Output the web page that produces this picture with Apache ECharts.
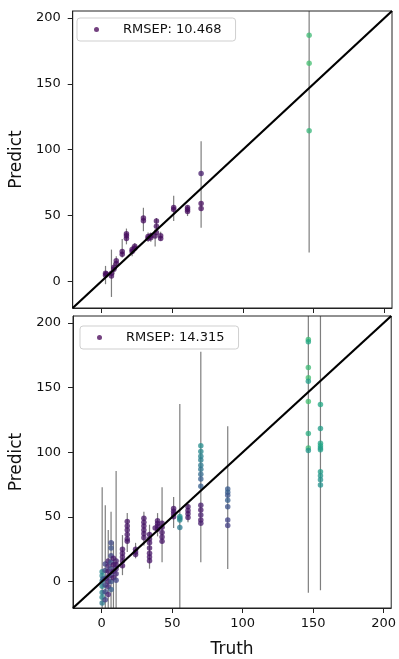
<!DOCTYPE html>
<html>
<head>
<meta charset="utf-8">
<script src="https://cdn.jsdelivr.net/npm/echarts@6/dist/echarts.min.js"></script>
<style>
html,body{margin:0;padding:0;background:#fff;}
#chart{width:399px;height:659px;}
</style>
</head>
<body>
<div id="chart"></div>
<script>
// ---------- data ----------
const axisMin = -20.4;
const axisMax = 205.4;
const tickValues = [0, 50, 100, 150, 200];
const xTitle = 'Truth';
const yTitle = 'Predict';
const topLabel = 'RMSEP: 10.468';
const botLabel = 'RMSEP: 14.315';

// top panel points (truth, predict, colour level 0..1)
const topTruth = [2.8, 2.8, 3.5, 7, 7, 8.7, 8.7, 10.4, 10.4, 14.6, 14.6, 17.6, 17.6, 17.6, 21.6, 21.6, 23.5, 23.5,
  29.6, 29.6, 32.9, 32.9, 34.8, 34.8, 37.9, 38.8, 38.8, 38.8, 41.8, 41.8, 51, 51, 60.8, 60.8, 60.8,
  70.4, 70.4, 70.4, 146.8, 146.8, 146.8];
const topPred = [4.5, 6.0, 5.5, 4.0, 6.0, 9.0, 10.5, 13.5, 15.5, 20.5, 22.5, 32.5, 34.5, 36.0, 22.5, 24.0, 25.0, 26.5,
  46.0, 48.0, 32.5, 34.0, 33.0, 34.5, 34.3, 37.0, 41.7, 45.7, 32.5, 34.5, 54.5, 56.0, 53.0, 54.5, 56.0,
  81.8, 59.0, 55.3, 187.0, 165.7, 114.4];
const topShade = [0.03, 0.03, 0.03, 0.03, 0.03, 0.03, 0.03, 0.03, 0.03, 0.03, 0.03, 0.03, 0.03, 0.03, 0.03, 0.03, 0.03, 0.03,
  0.03, 0.03, 0.03, 0.03, 0.03, 0.03, 0.03, 0.03, 0.03, 0.03, 0.03, 0.03, 0.03, 0.03, 0.03, 0.03, 0.03,
  0.08, 0.03, 0.03, 0.68, 0.7, 0.66];
// top panel error bars
const topBarX = [2.8, 7, 8.7, 10.4, 14.6, 17.6, 21.6, 23.5, 29.6, 32.9, 34.8, 37.9, 38.8, 41.8, 51, 60.8, 70.4, 146.8];
const topBarLow = [-2.3, -12, 5, 9, 18, 28, 19, 22, 38, 30, 30, 26.3, 37, 31, 45.7, 49.5, 40.7, 21.7];
const topBarHigh = [11.6, 24, 14, 19, 32, 40, 27, 29, 55.8, 37, 37, 39.4, 48, 37.5, 65, 57.6, 106.3, 230];

// bottom panel points
const botTruth = [
  0.3, 0.3, 0.3, 0.3, 0.3, 0.3, 0.3, 0.8,
  2.5, 2.5, 2.5, 2.5, 2.5, 2.5,
  4.6, 4.6, 4.6, 4.6, 4.6, 4.6, 4.6,
  6.6, 6.6, 6.6, 6.6, 6.6, 6.6, 6.6, 6.6,
  8.3, 8.3, 8.3, 8.3,
  10.2, 10.2, 10.2, 10.2, 10.2,
  14.7, 14.7, 14.7, 14.7, 14.7,
  18.1, 18.1, 18.1, 18.1, 18.1, 18.1,
  24, 24, 24,
  29.9, 29.9, 29.9, 29.9, 29.9, 29.9,
  33.9, 33.9, 33.9, 33.9, 33.9, 33.9, 33.9,
  37.9, 39.6, 39.6, 39.6, 39.6,
  42.8, 42.8, 42.8, 42.8, 42.8,
  51, 51, 51, 51,
  55.4, 55.4, 55.4, 55.4,
  61.2, 61.2, 61.2, 61.2,
  70.3, 70.3, 70.3, 70.3, 70.3, 70.3, 70.3, 70.3, 70.3, 70.3, 70.3, 70.3, 70.3, 70.3,
  89.4, 89.4, 89.4, 89.4, 89.4, 89.4, 89.4,
  146.6, 146.6, 146.6, 146.6, 146.6, 146.6, 146.6, 146.6, 146.6,
  155.2, 155.2, 155.2, 155.2, 155.2, 155.2, 155.2, 155.2, 155.2, 155.2];
const botPred = [
  7.6, 4.5, 0.5, -3.5, -8.5, -12, -16.5, 2.0,
  13.6, 8.6, 2.3, -2.7, -7.8, -14,
  16, 12, 8, 4, 0, -4, -10,
  30, 26, 20, 15, 10, 5, 0, -6,
  18, 13, 8, 3,
  16, 13, 10, 6, 1,
  25, 22, 19, 16, 12.3,
  46.4, 43, 40, 36.5, 33, 31.3,
  25, 23, 21,
  49, 46, 43, 40, 37, 34,
  36.4, 33, 30, 26, 22, 19, 16.2,
  41.4, 47, 45, 43, 40.5,
  45.2, 42, 38, 34.5, 31.3,
  56.6, 54.5, 52.5, 50.2,
  50.3, 49, 47.7, 41.9,
  57.8, 55, 52.5, 49.5,
  105, 100.7, 97, 94, 89.9, 86.9, 83.1, 79.3, 73.7, 59, 55.3, 51.5, 47.7, 45.2,
  71.7, 69.2, 66.7, 62.9, 57.8, 47.7, 43.4,
  187.3, 185.4, 165.6, 157.6, 155, 139.2, 114.6, 103.3, 101.3,
  137, 118.4, 107, 105, 103.3, 102, 85, 81.8, 78.8, 74.8];
const botShade = [
  0.45, 0.45, 0.42, 0.45, 0.42, 0.45, 0.4, 0.3,
  0.2, 0.22, 0.18, 0.2, 0.22, 0.18,
  0.08, 0.1, 0.06, 0.1, 0.08, 0.12, 0.1,
  0.22, 0.25, 0.2, 0.25, 0.22, 0.2, 0.25, 0.3,
  0.05, 0.05, 0.05, 0.05,
  0.08, 0.06, 0.1, 0.12, 0.2,
  0.05, 0.05, 0.05, 0.05, 0.05,
  0.05, 0.05, 0.05, 0.05, 0.05, 0.05,
  0.05, 0.05, 0.05,
  0.05, 0.05, 0.05, 0.05, 0.05, 0.05,
  0.05, 0.05, 0.05, 0.05, 0.05, 0.05, 0.05,
  0.05, 0.05, 0.05, 0.05, 0.05,
  0.05, 0.05, 0.05, 0.05, 0.05,
  0.05, 0.05, 0.05, 0.05,
  0.5, 0.48, 0.45, 0.4,
  0.05, 0.05, 0.05, 0.05,
  0.48, 0.46, 0.44, 0.42, 0.4, 0.38, 0.34, 0.3, 0.3, 0.08, 0.06, 0.08, 0.06, 0.08,
  0.28, 0.3, 0.26, 0.3, 0.25, 0.2, 0.18,
  0.68, 0.6, 0.68, 0.7, 0.55, 0.7, 0.62, 0.68, 0.52,
  0.6, 0.55, 0.58, 0.6, 0.56, 0.55, 0.55, 0.52, 0.5, 0.5];
// bottom panel error bars
const botBarX = [0.3, 2.5, 4.6, 6.6, 8.3, 10.2, 14.7, 18.1, 24, 29.9, 33.9, 39.6, 42.8, 51, 55.4, 61.2, 70.3, 89.4, 146.6, 155.2];
const botBarLow = [-25, -25, -25, -25, -25, -25, 5, 23, 18, 28, 10, 35, 15, 41.4, -25, 46, 14.9, 9.8, -8.6, -6.6];
const botBarHigh = [73, 59, 40, 54, 31, 85.6, 36, 53, 30, 54, 44, 53, 73, 65.4, 137.4, 60, 177.8, 120.2, 230, 230];

// ---------- build ----------
const viridis = ['#440154', '#482475', '#414487', '#355f8d', '#2a788e', '#21918c', '#22a884', '#44bf70', '#7ad151', '#bddf26', '#fde725'];
const font = 'DejaVu Sans';

function zipPts(a, b, c) { return a.map((v, i) => [v, b[i], c[i]]); }
function zipBars(a, b, c) { return a.map((v, i) => [v, b[i], c[i]]); }

function barRender(params, api) {
  const x = api.value(0);
  const lo = Math.max(api.value(1), axisMin);
  const hi = Math.min(api.value(2), axisMax);
  const p1 = api.coord([x, lo]);
  const p2 = api.coord([x, hi]);
  return {
    type: 'line',
    shape: { x1: p1[0], y1: p1[1], x2: p2[0], y2: p2[1] },
    style: { stroke: 'rgba(40,40,40,0.6)', lineWidth: 1.2 }
  };
}

function xAx(gi, showLabels) {
  return {
    type: 'value', gridIndex: gi, min: axisMin, max: axisMax,
    splitLine: { show: false },
    axisLine: { show: true, onZero: false, lineStyle: { color: '#222', width: 1 } },
    axisTick: { show: true, inside: false, length: 5, lineStyle: { color: '#222' }, customValues: tickValues },
    axisLabel: { show: showLabels, margin: 9, color: '#111', fontSize: 13, fontFamily: font, customValues: tickValues },
    name: showLabels ? xTitle : '', nameLocation: 'middle', nameGap: 33,
    nameTextStyle: { fontSize: 17, fontFamily: font, color: '#111' }
  };
}
function yAx(gi) {
  return {
    type: 'value', gridIndex: gi, min: axisMin, max: axisMax,
    splitLine: { show: false },
    axisLine: { show: true, onZero: false, lineStyle: { color: '#222', width: 1 } },
    axisTick: { show: true, inside: false, length: 5, lineStyle: { color: '#222' }, customValues: tickValues },
    axisLabel: { margin: 12, color: '#111', fontSize: 13, fontFamily: font, customValues: tickValues },
    name: yTitle, nameLocation: 'middle', nameGap: 40, nameRotate: 90,
    nameTextStyle: { fontSize: 17, fontFamily: font, color: '#111' }
  };
}

function legendCfg(label, left, top) {
  return {
    data: [label], left: left, top: top, icon: 'circle', itemWidth: 5, itemHeight: 5,
    padding: [5, 14, 5, 17], borderColor: '#cfcfcf', borderWidth: 1, borderRadius: 3,
    backgroundColor: 'rgba(255,255,255,0.85)', selectedMode: false,
    textStyle: { fontSize: 13, fontFamily: font, color: '#111', padding: [0, 0, 0, 19] }
  };
}

const diag = [[axisMin, axisMin], [axisMax, axisMax]];

const option = {
  animation: false,
  backgroundColor: '#fff',
  grid: [
    { left: 70, top: 11, width: 322, height: 297, show: true, borderColor: '#222', borderWidth: 1, backgroundColor: 'transparent' },
    { left: 73, top: 316, width: 321, height: 299, show: true, borderColor: '#222', borderWidth: 1, backgroundColor: 'transparent' }
  ],
  xAxis: [xAx(0, false), xAx(1, true)],
  yAxis: [yAx(0), yAx(1)],
  legend: [legendCfg(topLabel, 77, 18), legendCfg(botLabel, 80, 326)],
  visualMap: {
    show: false, type: 'continuous', seriesIndex: [1, 4], dimension: 2, min: 0, max: 1,
    inRange: { color: viridis }
  },
  series: [
    { type: 'custom', xAxisIndex: 0, yAxisIndex: 0, renderItem: barRender, encode: { x: 0, y: [1, 2] },
      data: zipBars(topBarX, topBarLow, topBarHigh), z: 1, silent: true, clip: true },
    { type: 'scatter', name: topLabel, xAxisIndex: 0, yAxisIndex: 0, symbolSize: 5.5,
      itemStyle: { color: '#440154', opacity: 0.75 }, data: zipPts(topTruth, topPred, topShade), z: 2 },
    { type: 'line', xAxisIndex: 0, yAxisIndex: 0, data: diag, symbol: 'none', clip: true,
      lineStyle: { color: '#000', width: 2.2 }, z: 3, silent: true },
    { type: 'custom', xAxisIndex: 1, yAxisIndex: 1, renderItem: barRender, encode: { x: 0, y: [1, 2] },
      data: zipBars(botBarX, botBarLow, botBarHigh), z: 1, silent: true, clip: true },
    { type: 'scatter', name: botLabel, xAxisIndex: 1, yAxisIndex: 1, symbolSize: 5.5,
      itemStyle: { color: '#440154', opacity: 0.75 }, data: zipPts(botTruth, botPred, botShade), z: 2 },
    { type: 'line', xAxisIndex: 1, yAxisIndex: 1, data: diag, symbol: 'none', clip: true,
      lineStyle: { color: '#000', width: 2.2 }, z: 3, silent: true }
  ]
};

const chart = echarts.init(document.getElementById('chart'), null, { renderer: 'canvas' });
chart.setOption(option);
</script>
</body>
</html>
